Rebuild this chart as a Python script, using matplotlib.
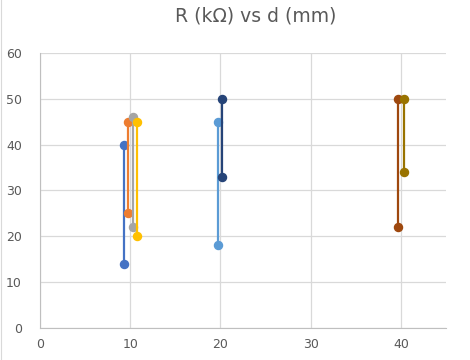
import matplotlib.pyplot as plt
from matplotlib.lines import Line2D

# distance (mm) and resistance (kOhm), one pair per series
x_vals = [[9.3, 9.3], [9.8, 9.8], [10.3, 10.3], [10.8, 10.8],
          [19.7, 19.7], [20.2, 20.2], [39.7, 39.7], [40.3, 40.3]]
y_vals = [[40, 14], [45, 25], [46, 22], [45, 20],
          [45, 18], [50, 33], [50, 22], [50, 34]]
colors = ["#4472C4", "#ED7D31", "#A5A5A5", "#FFC000",
          "#5B9BD5", "#264478", "#9E480E", "#997300"]

fig = plt.figure(figsize=(4.7, 3.6), dpi=100)
ax = fig.add_axes([0.085, 0.089, 0.864, 0.764])

for xs, ys, c in zip(x_vals, y_vals, colors):
    ax.plot(xs, ys, color=c, lw=1.6, marker="o", markersize=5.8, zorder=3)

ax.set_xlim(0, 45)
ax.set_ylim(0, 60)
ax.set_xticks([0, 10, 20, 30, 40])
ax.set_yticks(range(0, 61, 10))
ax.grid(True, color="#D9D9D9", lw=0.9)
ax.set_axisbelow(True)
for s in ["top", "right"]:
    ax.spines[s].set_visible(False)
for s in ["left", "bottom"]:
    ax.spines[s].set_color("#BFBFBF")
ax.tick_params(length=0, labelsize=9, labelcolor="#595959")
ax.tick_params(axis="y", pad=13)
ax.tick_params(axis="x", pad=7)

fig.text(0.545, 0.955, "R (kΩ) vs d (mm)", ha="center", va="center",
         fontsize=13.5, color="#595959")
fig.add_artist(Line2D([0.003, 0.003], [0, 1], color="#D9D9D9", lw=0.8))

fig.savefig("out.png", dpi=100)
